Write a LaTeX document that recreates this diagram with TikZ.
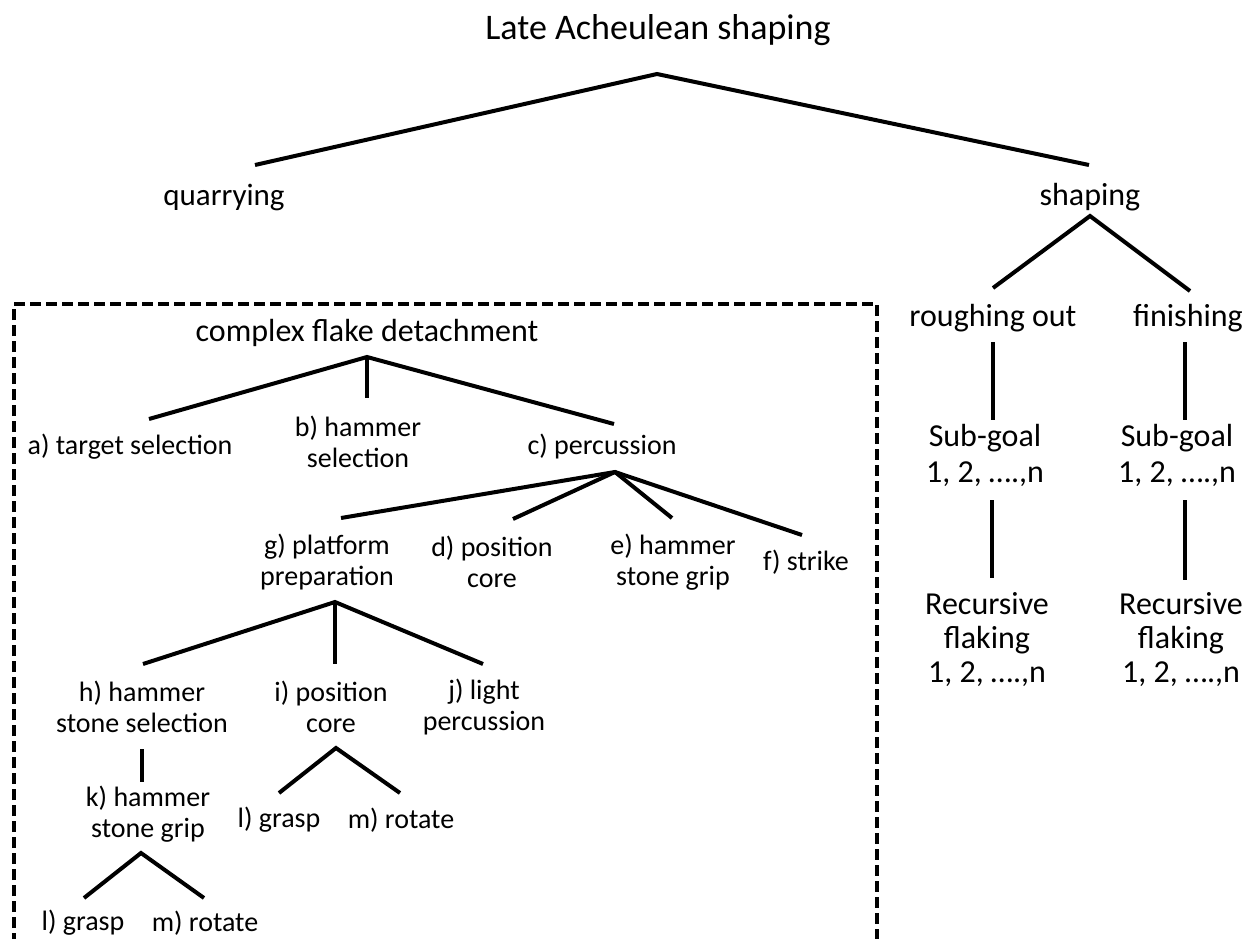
\documentclass[tikz,border=0pt]{standalone}
\usepackage{fontspec}
\setmainfont{Carlito}
\begin{document}
\begin{tikzpicture}[x=1pt,y=-1pt,
  lbl/.style={font=\fontsize{28}{31}\selectfont, align=center, inner sep=0pt},
  big/.style={font=\fontsize{32}{34}\selectfont, align=center, inner sep=0pt},
  ttl/.style={font=\fontsize{36}{38}\selectfont, align=center, inner sep=0pt},
  edge/.style={line width=4pt},
  box/.style={line width=3.5pt, dash pattern=on 11pt off 5pt}]
\useasboundingbox (0,0) rectangle (1251,939);
% nodes
\node[ttl] (title) at (658,30) {Late Acheulean shaping};
\node[big, font=\fontsize{31}{34}\selectfont] (quar) at (224,197) {quarrying};
\node[big] (shap) at (1090,197) {shaping};
\node[big] (rough) at (993,318) {roughing out};
\node[big] (fin) at (1188,318) {finishing};
\node[big, font=\fontsize{32}{36}\selectfont] (sub1) at (985,455) {Sub-goal\\1, 2, ….,n};
\node[big, font=\fontsize{32}{36}\selectfont] (sub2) at (1177,455) {Sub-goal\\1, 2, ….,n};
\node[big] (rec1) at (987,640) {Recursive\\flaking\\1, 2, ….,n};
\node[big] (rec2) at (1181,640) {Recursive\\flaking\\1, 2, ….,n};
\node[big] (cfd) at (367,333) {complex flake detachment};
\node[lbl] (a) at (130,447) {a) target selection};
\node[lbl] (b) at (358,442) {b) hammer\\selection};
\node[lbl] (c) at (602,447) {c) percussion};
\node[lbl] (g) at (327,562) {g) platform\\preparation};
\node[lbl] (d) at (492,562) {d) position\\core};
\node[lbl] (e) at (673,562) {e) hammer\\stone grip};
\node[lbl] (f) at (806,562) {f) strike};
\node[lbl] (h) at (142,707) {h) hammer\\stone selection};
\node[lbl] (i) at (331,707) {i) position\\core};
\node[lbl] (j) at (484,707) {j) light\\percussion};
\node[lbl] (k) at (148,814) {k) hammer\\stone grip};
\node[lbl] (l1) at (83,923) {l) grasp};
\node[lbl] (m1) at (205,923) {m) rotate};
\node[lbl] (l2) at (279,820) {l) grasp};
\node[lbl] (m2) at (401,820) {m) rotate};
% joints
\coordinate (titleA) at (657,74);
\coordinate (quarT) at (255,165);
\coordinate (shapT) at (1089,165);
\coordinate (shapA) at (1090,216);
\coordinate (roughT) at (993,288);
\coordinate (finT) at (1190,291);
\coordinate (roughB) at (993,342);
\coordinate (sub1T) at (993,420);
\coordinate (sub1B) at (992,500);
\coordinate (rec1T) at (992,578);
\coordinate (finB) at (1185,342);
\coordinate (sub2T) at (1185,420);
\coordinate (sub2B) at (1185,500);
\coordinate (rec2T) at (1185,580);
\coordinate (cfdA) at (367,357);
\coordinate (aT) at (149,419);
\coordinate (bT) at (367,398);
\coordinate (cT) at (614,424);
\coordinate (cA) at (615,472);
\coordinate (gT) at (341,518);
\coordinate (dT) at (513,519);
\coordinate (eT) at (672,518);
\coordinate (fT) at (802,535);
\coordinate (gA) at (335,602);
\coordinate (hT) at (143,664);
\coordinate (iT) at (335,664);
\coordinate (jT) at (483,664);
\coordinate (hB) at (142,749);
\coordinate (kT) at (142,782);
\coordinate (kA) at (141,853);
\coordinate (l1T) at (84,898);
\coordinate (m1T) at (204,898);
\coordinate (iA) at (336,748);
\coordinate (l2T) at (279,793);
\coordinate (m2T) at (400,793);
% connectors
\draw[edge] (quarT) -- (titleA) -- (shapT);
\draw[edge] (roughT) -- (shapA) -- (finT);
\draw[edge] (roughB) -- (sub1T);
\draw[edge] (sub1B) -- (rec1T);
\draw[edge] (finB) -- (sub2T);
\draw[edge] (sub2B) -- (rec2T);
\draw[edge] (aT) -- (cfdA) -- (cT);
\draw[edge] (cfdA) -- (bT);
\draw[edge] (gT) -- (cA) -- (fT);
\draw[edge] (cA) -- (dT);
\draw[edge] (cA) -- (eT);
\draw[edge] (hT) -- (gA) -- (jT);
\draw[edge] (gA) -- (iT);
\draw[edge] (hB) -- (kT);
\draw[edge] (l1T) -- (kA) -- (m1T);
\draw[edge] (l2T) -- (iA) -- (m2T);
% dashed frame
\coordinate (boxBL) at (14,960);
\coordinate (boxTL) at (14,304);
\coordinate (boxTR) at (877,304);
\coordinate (boxBR) at (877,960);
\draw[box] (boxBL) -- (boxTL) -- (boxTR) -- (boxBR);
\end{tikzpicture}
\end{document}
